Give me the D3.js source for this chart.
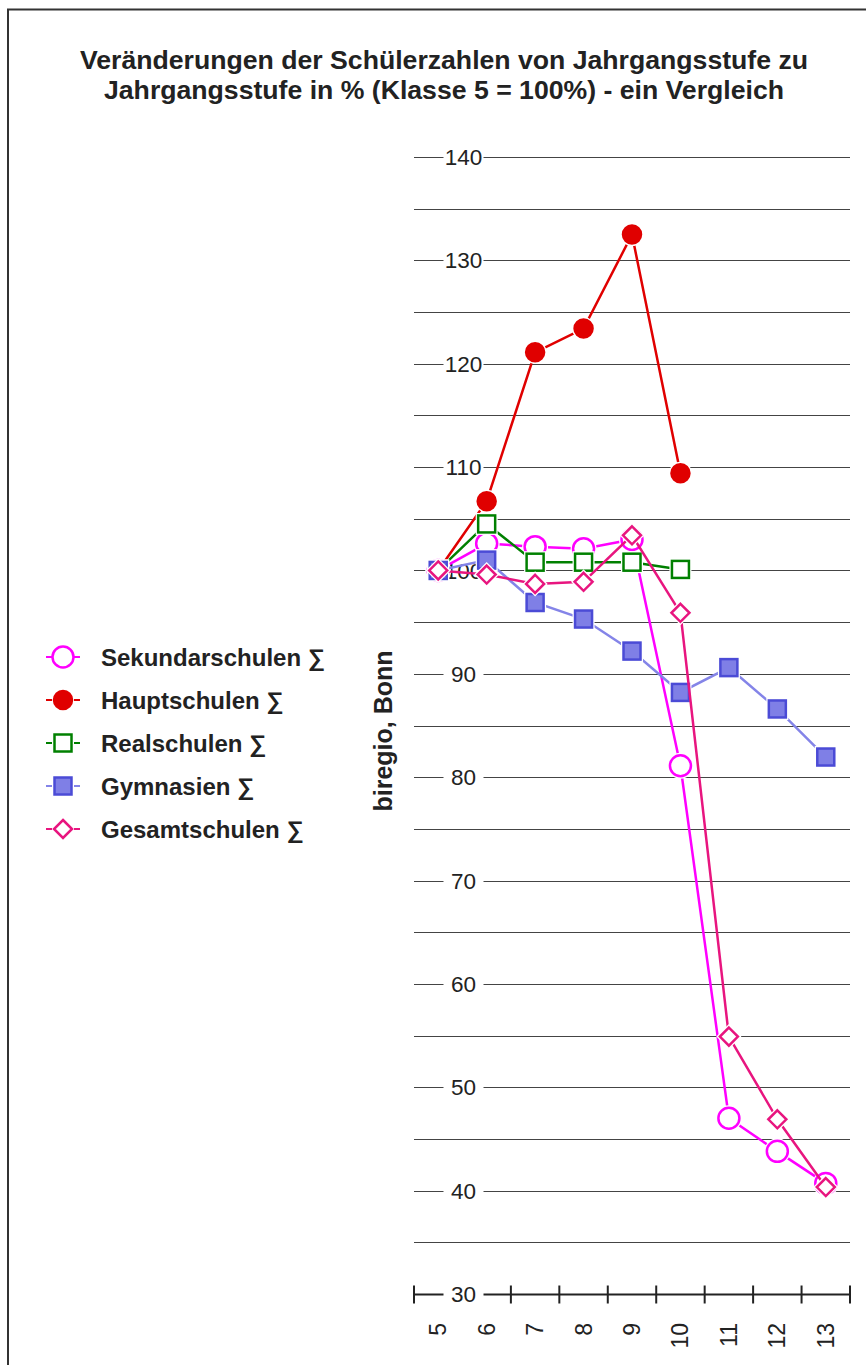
<!DOCTYPE html>
<meta charset="utf-8">
<style>
  body { margin: 0; background: #fff; }
  text { font-family: "Liberation Sans", Arial, sans-serif; }
</style>
<body>
<svg id="chart" width="866" height="1365"></svg>
<script src="https://d3js.org/d3.v7.min.js"></script>
<script>

// categories (Jahrgangsstufen)
var classes = ["5", "6", "7", "8", "9", "10", "11", "12", "13"];
var yTicks = [140, 130, 120, 110, 100, 90, 80, 70, 60, 50, 40, 30];

// values in % (Klasse 5 = 100)
var sekundar = [100, 102.6, 102.3, 102.1, 103.0, 81.1, 47.0, 43.8, 40.7];
var haupt    = [100, 106.7, 121.1, 123.4, 132.5, 109.4];
var real     = [100, 104.5, 100.8, 100.8, 100.8, 100.1];
var gymn     = [100, 101.0, 96.9, 95.3, 92.2, 88.2, 90.6, 86.6, 81.95];
var gesamt   = [100, 99.6, 98.7, 98.9, 103.4, 95.9, 54.9, 46.9, 40.35];

var seriesNames = ["Sekundarschulen ∑", "Hauptschulen ∑", "Realschulen ∑", "Gymnasien ∑", "Gesamtschulen ∑"];

var series = [
  {name: seriesNames[0], values: sekundar, line: "#ff00ff", stroke: "#ff00ff", fill: "#fff", shape: "circle", size: 10.5, lw: 2.5},
  {name: seriesNames[1], values: haupt, line: "#e00000", stroke: "#e00000", fill: "#e00000", shape: "circle", size: 9, lw: 2.5},
  {name: seriesNames[2], values: real, line: "#008000", stroke: "#008000", fill: "#fff", shape: "square", size: 8.5, lw: 2.5},
  {name: seriesNames[3], values: gymn, line: "#8484e8", stroke: "#4b4bd6", fill: "#7f7fe6", shape: "square", size: 8.5, lw: 2.5},
  {name: seriesNames[4], values: gesamt, line: "#e8157f", stroke: "#e8157f", fill: "#fff", shape: "diamond", size: 9, lw: 2.5}
];

var svg = d3.select("#chart");

// frame
svg.append("rect")
  .attr("x", 8).attr("y", 9.5)
  .attr("width", 900).attr("height", 1400)
  .attr("fill", "none").attr("stroke", "#333").attr("stroke-width", 2);

// title
var title = svg.append("text")
  .attr("text-anchor", "middle")
  .attr("font-weight", "bold")
  .attr("font-size", 25)
  .attr("fill", "#222");
title.append("tspan").attr("x", 444).attr("y", 69)
  .attr("textLength", 728).attr("lengthAdjust", "spacingAndGlyphs")
  .text("Veränderungen der Schülerzahlen von Jahrgangsstufe zu");
title.append("tspan").attr("x", 444).attr("y", 99)
  .attr("textLength", 680).attr("lengthAdjust", "spacingAndGlyphs")
  .text("Jahrgangsstufe in % (Klasse 5 = 100%) - ein Vergleich");

var x = d3.scaleBand().domain(classes).range([414, 850]);
var y = d3.scaleLinear().domain([30, 140]).range([1294, 157]);

// gridlines every 5
var grid = d3.range(35, 145, 5);
svg.append("g").selectAll("line")
  .data(grid).enter().append("line")
  .attr("x1", 414).attr("x2", 850)
  .attr("y1", d => Math.round(y(d)) + 0.5)
  .attr("y2", d => Math.round(y(d)) + 0.5)
  .attr("stroke", "#444").attr("stroke-width", 1.2);

// x axis baseline with ticks
var base = Math.round(y(30)) + 0.5;
svg.append("line")
  .attr("x1", 414).attr("x2", 850).attr("y1", base).attr("y2", base)
  .attr("stroke", "#222").attr("stroke-width", 2);
var tickPos = classes.map(c => x(c)).concat([850]);
svg.append("g").selectAll("line")
  .data(tickPos).enter().append("line")
  .attr("x1", d => d).attr("x2", d => d)
  .attr("y1", base - 9).attr("y2", base + 9)
  .attr("stroke", "#222").attr("stroke-width", 2);

// x labels, rotated
svg.append("g").selectAll("text")
  .data(classes).enter().append("text")
  .attr("transform", d => "translate(" + (x(d) + x.bandwidth() / 2 + 8) + "," + 1323 + ") rotate(-90)")
  .attr("text-anchor", "end")
  .attr("font-size", 23)
  .attr("fill", "#222")
  .text(d => d);

// y labels on gridlines with white background
var ylab = svg.append("g").selectAll("g")
  .data(yTicks).enter().append("g")
  .attr("transform", d => "translate(463.5," + y(d) + ")");
ylab.append("rect")
  .attr("x", -20).attr("y", -10).attr("width", 40).attr("height", 20)
  .attr("fill", "#fff");
ylab.append("text")
  .attr("text-anchor", "middle")
  .attr("dy", "0.36em")
  .attr("font-size", 22.5)
  .attr("fill", "#222")
  .text(d => d);

// y axis title
svg.append("text")
  .attr("transform", "translate(392,731) rotate(-90)")
  .attr("text-anchor", "middle")
  .attr("font-weight", "bold")
  .attr("font-size", 25)
  .attr("fill", "#222")
  .text("biregio, Bonn");

function drawMarker(g, s, cx, cy, halo) {
  var r = s.size;
  var sel;
  if (s.shape === "circle") {
    sel = g.append("circle").attr("cx", cx).attr("cy", cy).attr("r", r);
  } else if (s.shape === "square") {
    sel = g.append("rect").attr("x", cx - r).attr("y", cy - r).attr("width", 2 * r).attr("height", 2 * r);
  } else {
    sel = g.append("path")
      .attr("d", "M" + cx + "," + (cy - r) + "L" + (cx + r) + "," + cy + "L" + cx + "," + (cy + r) + "L" + (cx - r) + "," + cy + "Z");
  }
  if (halo) {
    sel.attr("fill", "#fff").attr("stroke", "#fff").attr("stroke-width", 5);
  } else {
    sel.attr("fill", s.fill).attr("stroke", s.stroke).attr("stroke-width", 2.5);
  }
}

// series
var line = d3.line()
  .x((d, i) => x(classes[i]) + x.bandwidth() / 2)
  .y(d => y(d));

series.forEach(function(s) {
  var g = svg.append("g");
  g.append("path")
    .attr("d", line(s.values))
    .attr("fill", "none")
    .attr("stroke", s.line)
    .attr("stroke-width", s.lw);
  s.values.forEach(function(v, i) {
    var cx = x(classes[i]) + x.bandwidth() / 2;
    drawMarker(g, s, cx, y(v), true);
    drawMarker(g, s, cx, y(v), false);
  });
});

// legend
var leg = svg.append("g").selectAll("g")
  .data(series).enter().append("g")
  .attr("transform", (d, i) => "translate(0," + (657 + i * 43) + ")");
leg.each(function(s) {
  var g = d3.select(this);
  g.append("line").attr("x1", 46).attr("x2", 52).attr("y1", 0).attr("y2", 0)
    .attr("stroke", s.line).attr("stroke-width", 2);
  g.append("line").attr("x1", 74).attr("x2", 80).attr("y1", 0).attr("y2", 0)
    .attr("stroke", s.line).attr("stroke-width", 2);
  drawMarker(g, s, 63, 0, false);
  g.append("text")
    .attr("x", 101).attr("dy", "0.36em")
    .attr("font-weight", "bold")
    .attr("font-size", 24)
    .attr("fill", "#222")
    .text(s.name);
});

</script>
</body>
